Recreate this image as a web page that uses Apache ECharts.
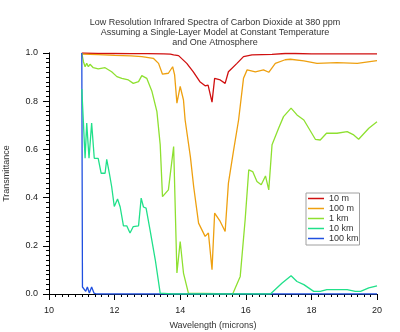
<!DOCTYPE html>
<html>
<head>
<meta charset="utf-8">
<script src="https://cdn.jsdelivr.net/npm/echarts@6/dist/echarts.min.js"></script>
<style>html,body{margin:0;padding:0;background:#fff}#c{width:400px;height:332px}</style>
</head>
<body>
<div id="c"></div>
<script>
var seriesNames = ['10 m', '100 m', '1 km', '10 km', '100 km'];
var xTicks = [10, 12, 14, 16, 18, 20];
var yTicks = [0.0, 0.2, 0.4, 0.6, 0.8, 1.0];

var red_x = [11, 11.5, 12, 12.5, 13, 13.5, 13.7, 13.8, 13.95, 14.2, 14.4, 14.6, 14.76, 14.85, 14.97, 15.05, 15.22, 15.37, 15.47, 15.73, 15.93, 16.19, 16.8, 17.2, 17.5, 18, 19, 20];
var red_t = [1.0, 0.998, 0.998, 0.997, 0.997, 0.996, 0.995, 0.992, 0.989, 0.957, 0.922, 0.881, 0.864, 0.867, 0.796, 0.895, 0.888, 0.874, 0.922, 0.957, 0.985, 0.992, 0.994, 0.998, 0.998, 0.996, 0.996, 0.996];

var orange_x = [11, 11.5, 12, 12.5, 12.83, 13.18, 13.34, 13.46, 13.64, 13.77, 13.83, 13.9, 14.0, 14.1, 14.15, 14.31, 14.41, 14.56, 14.76, 14.86, 14.97, 15.05, 15.22, 15.37, 15.47, 15.63, 15.78, 15.93, 16.04, 16.29, 16.54, 16.70, 16.9, 17.2, 17.36, 17.77, 18.17, 18.78, 19.4, 20];
var orange_t = [0.995, 0.993, 0.99, 0.988, 0.985, 0.978, 0.957, 0.912, 0.916, 0.943, 0.909, 0.792, 0.861, 0.805, 0.722, 0.570, 0.446, 0.294, 0.239, 0.253, 0.101, 0.336, 0.301, 0.259, 0.460, 0.598, 0.722, 0.895, 0.930, 0.922, 0.930, 0.920, 0.957, 0.972, 0.974, 0.967, 0.957, 0.960, 0.957, 0.968];

var green_x = [11, 11.05, 11.1, 11.15, 11.2, 11.25, 11.35, 11.5, 11.71, 11.91, 12.07, 12.22, 12.42, 12.57, 12.73, 12.83, 12.98, 13.14, 13.29, 13.39, 13.46, 13.64, 13.8, 13.9, 14.0, 14.1, 14.25, 15.6, 15.83, 15.98, 16.09, 16.21, 16.34, 16.47, 16.6, 16.7, 16.8, 17.0, 17.15, 17.38, 17.56, 17.77, 18.12, 18.27, 18.46, 18.78, 19.09, 19.29, 19.44, 19.75, 20];
var green_t = [1.0, 0.964, 0.943, 0.957, 0.943, 0.953, 0.939, 0.934, 0.939, 0.922, 0.902, 0.895, 0.888, 0.874, 0.881, 0.906, 0.895, 0.840, 0.757, 0.620, 0.404, 0.432, 0.612, 0.087, 0.218, 0.087, 0.004, 0.0, 0.073, 0.308, 0.515, 0.508, 0.467, 0.453, 0.490, 0.432, 0.619, 0.688, 0.736, 0.771, 0.743, 0.722, 0.642, 0.639, 0.667, 0.667, 0.674, 0.660, 0.642, 0.688, 0.715];

var cyan_x = [11, 11.05, 11.1, 11.15, 11.22, 11.3, 11.38, 11.5, 11.59, 11.71, 11.76, 11.84, 11.91, 11.99, 12.09, 12.17, 12.27, 12.37, 12.47, 12.57, 12.73, 12.81, 12.88, 12.96, 13.08, 13.24, 13.39, 13.75, 13.8, 13.85, 16.75, 17.1, 17.38, 17.56, 17.77, 18.07, 18.27, 18.47, 19.09, 19.34, 19.5, 19.75, 20];
var cyan_t = [0.85, 0.709, 0.563, 0.709, 0.563, 0.709, 0.563, 0.563, 0.501, 0.501, 0.559, 0.501, 0.446, 0.363, 0.394, 0.361, 0.283, 0.283, 0.253, 0.280, 0.283, 0.398, 0.361, 0.356, 0.266, 0.142, 0.004, 0.0, 0.004, 0.0, 0.0, 0.045, 0.076, 0.052, 0.039, 0.011, 0.011, 0.018, 0.018, 0.011, 0.011, 0.025, 0.034];

var blue_x = [11, 11.02, 11.12, 11.17, 11.23, 11.3, 11.37, 11.45, 20];
var blue_t = [1.0, 0.029, 0.011, 0.029, 0.004, 0.029, 0.004, 0.0, 0.0];

var colors = ['#d01010', '#eea010', '#8ee030', '#20e08a', '#2050e0'];

function pairs(xs, ts) { return xs.map(function (x, i) { return [x, ts[i]]; }); }
var allData = [pairs(red_x, red_t), pairs(orange_x, orange_t), pairs(green_x, green_t), pairs(cyan_x, cyan_t), pairs(blue_x, blue_t)];
var zs = [2, 2, 2, 4, 3];

var font = 'Liberation Sans, Arial, sans-serif';
var chart = echarts.init(document.getElementById('c'));

function tickAxis(pos, mn, mx, iv) {
  return {
    type: 'value', position: pos, offset: 0, min: mn, max: mx, interval: iv,
    axisLine: {show: true, lineStyle: {color: '#000'}},
    axisTick: {show: true, length: 6, lineStyle: {color: '#000', width: 1}},
    minorTick: {show: true, splitNumber: 10, length: 3, lineStyle: {color: '#000', width: 1}},
    splitLine: {show: false},
    axisLabel: {show: false}
  };
}

chart.setOption({
  animation: false,
  color: colors,
  title: {
    text: 'Low Resolution Infrared Spectra of Carbon Dioxide at 380 ppm\nAssuming a Single-Layer Model at Constant Temperature\nand One Atmosphere',
    left: 210, top: 12, textAlign: 'center',
    textStyle: {fontFamily: font, fontSize: 9, fontWeight: 'normal', color: '#333', lineHeight: 10.2, align: 'center'}
  },
  legend: {
    orient: 'vertical', left: 306, top: 193,
    data: seriesNames,
    icon: 'rect', itemWidth: 16, itemHeight: 1.5, itemGap: 1,
    borderColor: '#a0a0a0', borderWidth: 1, padding: [1, 1, 2, 2],
    textStyle: {fontFamily: font, fontSize: 9, color: '#333'}
  },
  grid: {left: 49, right: 23, top: 53, bottom: 38, outerBoundsMode: 'none'},
  xAxis: [{
    type: 'value', position: 'bottom', min: 10, max: 20, interval: 2,
    name: 'Wavelength (microns)', nameLocation: 'middle', nameGap: 27,
    nameTextStyle: {fontFamily: font, fontSize: 9, color: '#333'},
    axisLine: {show: true, lineStyle: {color: '#000'}},
    axisTick: {show: true, length: 6, lineStyle: {color: '#000', width: 1}},
    minorTick: {show: true, splitNumber: 10, length: 3, lineStyle: {color: '#000', width: 1}},
    splitLine: {show: false},
    axisLabel: {fontFamily: font, fontSize: 9, color: '#222', margin: 12}
  }, tickAxis('bottom', 10, 20, 2)],
  yAxis: [{
    type: 'value', position: 'left', min: 0, max: 1, interval: 0.2,
    name: 'Transmittance', nameLocation: 'middle', nameGap: 38,
    nameTextStyle: {fontFamily: font, fontSize: 9, color: '#333'},
    axisLine: {show: true, lineStyle: {color: '#000'}},
    axisTick: {show: true, length: 6, lineStyle: {color: '#000', width: 1}},
    minorTick: {show: true, splitNumber: 10, length: 3, lineStyle: {color: '#000', width: 1}},
    splitLine: {show: false},
    axisLabel: {fontFamily: font, fontSize: 9, color: '#222', margin: 11, formatter: function (v) { return v.toFixed(1); }}
  }, tickAxis('left', 0, 1, 0.2)],
  series: seriesNames.map(function (n, i) {
    return {
      name: n, type: 'line', data: allData[i], z: zs[i], xAxisIndex: 0, yAxisIndex: 0,
      showSymbol: false, symbol: 'none', smooth: false,
      lineStyle: {width: 1.3, color: colors[i]}, itemStyle: {color: colors[i]}
    };
  })
});
</script>
</body>
</html>
